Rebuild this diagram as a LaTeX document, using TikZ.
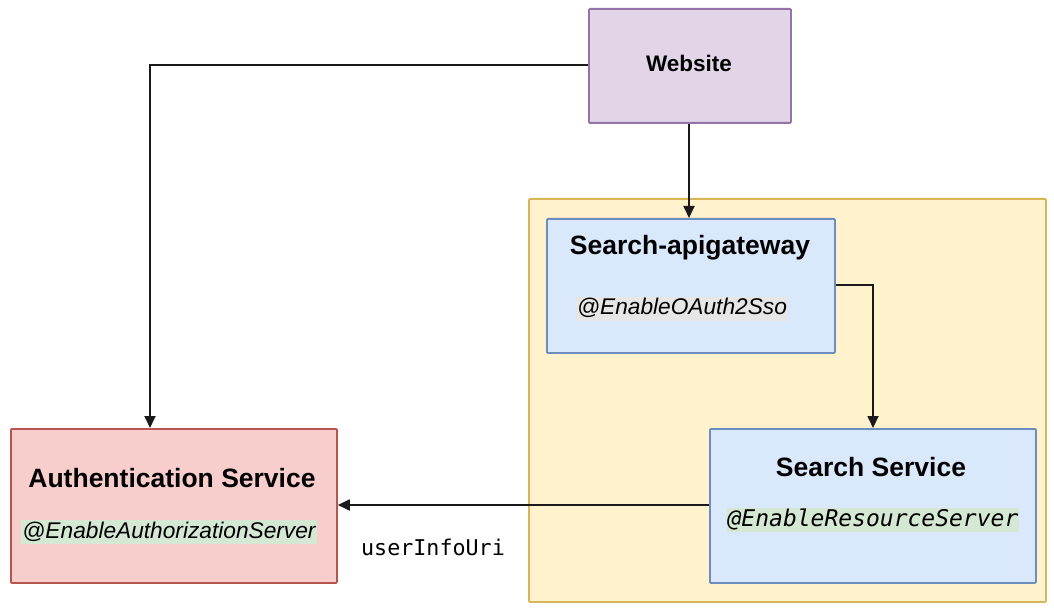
\documentclass[tikz,border=0pt]{standalone}
\usepackage{fontspec}
\setmainfont{Liberation Sans}
\newfontfamily\monofont{DejaVu Sans Mono}
\usetikzlibrary{arrows.meta}
\definecolor{purpfill}{HTML}{E1D5E7}
\definecolor{purpline}{HTML}{9673A6}
\definecolor{yelfill}{HTML}{FFF2CC}
\definecolor{yelline}{HTML}{D6B656}
\definecolor{bluefill}{HTML}{DAE8FC}
\definecolor{blueline}{HTML}{6C8EBF}
\definecolor{redfill}{HTML}{F8CECC}
\definecolor{redline}{HTML}{B85450}
\definecolor{greenhl}{HTML}{D5E8D4}
\definecolor{grayhl}{HTML}{E6E6E6}
\definecolor{linec}{HTML}{1A1A1A}
\tikzset{
  box/.style={draw, line width=1.8pt, rounded corners=1pt},
  title/.style={font=\bfseries\fontsize{26.5}{30}\selectfont, inner sep=0pt},
  anno/.style={font=\itshape\fontsize{22.7}{26}\selectfont, inner sep=1pt, text height=17pt, text depth=5pt},
  conn/.style={draw=linec, line width=1.8pt, -{Triangle[length=12pt,width=11pt]}}
}
\begin{document}
\begin{tikzpicture}[x=1pt,y=-1pt]
\useasboundingbox (0,0) rectangle (1054,609);
% container
\node[box, draw=yelline, fill=yelfill, minimum width=517pt, minimum height=403pt, anchor=north west] (cont) at (528,198) {};
% boxes
\node[box, draw=purpline, fill=purpfill, minimum width=202pt, minimum height=114pt, anchor=north west] (web) at (588,8) {};
\node[box, draw=blueline, fill=bluefill, minimum width=288pt, minimum height=134pt, anchor=north west] (gw) at (546,218) {};
\node[box, draw=blueline, fill=bluefill, minimum width=326pt, minimum height=154pt, anchor=north west] (ss) at (709,428) {};
\node[box, draw=redline, fill=redfill, minimum width=326pt, minimum height=154pt, anchor=north west] (auth) at (10,428) {};
% texts
\node[title, font=\bfseries\fontsize{22.5}{26}\selectfont] (webt) at (689,63) {Website};
\node[title] (gwt) at (690,248) {Search-apigateway};
\node[anno, fill=grayhl] (gwa) at (682,309) {@EnableOAuth2Sso};
\node[title] (sst) at (871,467) {Search Service};
\node[anno, fill=greenhl, font=\monofont\itshape\fontsize{23}{26}\selectfont] (ssa) at (873,520) {@EnableResourceServer};
\node[title] (autht) at (172,478) {Authentication Service};
\node[anno, fill=greenhl] (autha) at (169,532) {@EnableAuthorizationServer};
\node[font=\monofont\fontsize{21.7}{26}\selectfont, inner sep=0pt] (uiu) at (433,547) {userInfoUri};
% connectors
\coordinate (c1) at (150,65);
\draw[conn] (web.west |- 0,65) -- (c1) -- (auth.north -| c1);
\draw[conn] (web.south -| 689,0) -- (gw.north -| 689,0);
\coordinate (c2) at (873,285);
\draw[conn] (gw.east |- c2) -- (c2) -- (ss.north -| c2);
\draw[conn] (ss.west |- 0,505) -- (auth.east |- 0,505);
\end{tikzpicture}
\end{document}
